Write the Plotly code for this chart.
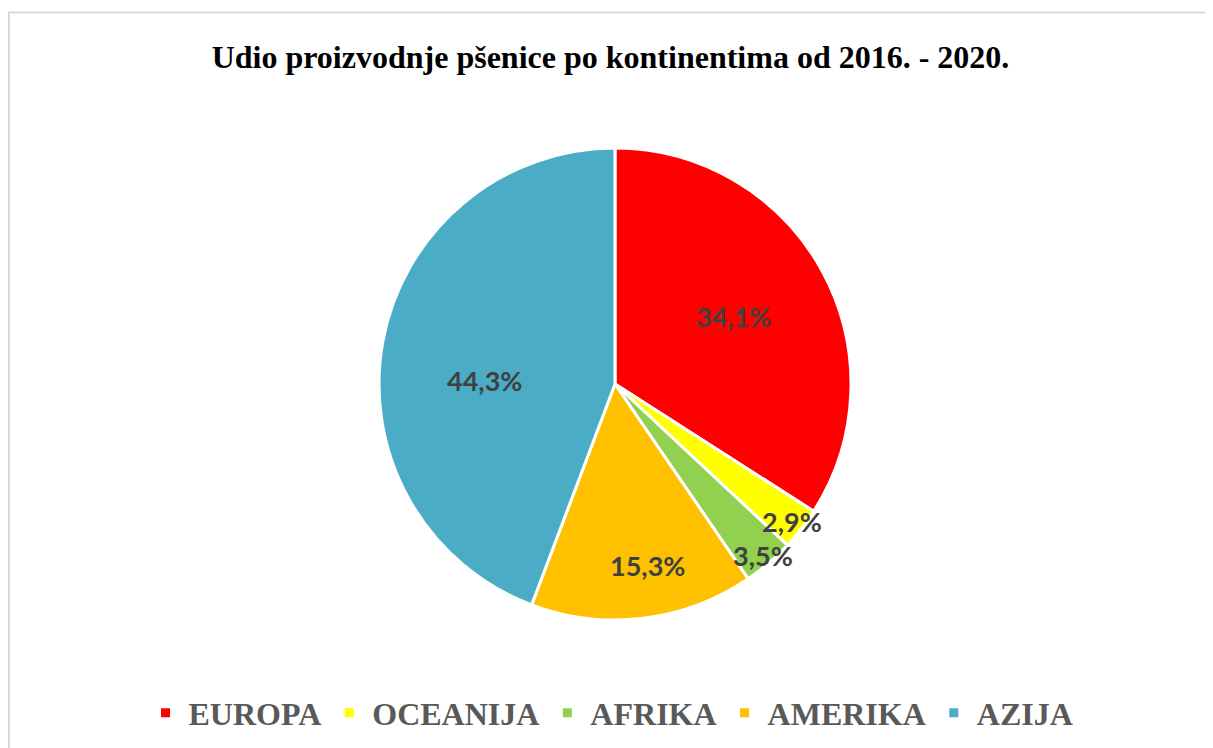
import math
import plotly.graph_objects as go

# ---- data ----
continents = ["EUROPA", "OCEANIJA", "AFRIKA", "AMERIKA", "AZIJA"]
shares = [34.1, 2.9, 3.5, 15.3, 44.3]
colors = ["#FF0000", "#FFFF00", "#92D050", "#FFC000", "#4BACC6"]
title_text = "Udio proizvodnje pšenice po kontinentima od 2016. - 2020."

# label placement (style only): fraction of radius and angle shift in degrees
label_radius = [0.58, 0.95, 0.96, 0.78, 0.555]
label_shift = [-1.0, 0.0, 0.0, -3.3, -8.6]

# page body has 8px default margin; figure sized to fit the viewport
OFF = 8
W, H = 1213 - OFF, 748 - OFF
cx, cy, R = 615 - OFF, 384 - OFF, 236

fig = go.Figure()
fig.add_trace(go.Pie(
    labels=continents,
    values=shares,
    sort=False,
    direction="clockwise",
    rotation=0,
    marker=dict(colors=colors, line=dict(color="white", width=3)),
    textinfo="none",
    hoverinfo="label+percent",
    domain=dict(x=[(cx - R) / W, (cx + R) / W],
                y=[(H - cy - R) / H, (H - cy + R) / H]),
))

# data labels computed from the values
total = sum(shares)
cum = 0.0
annotations = []
for name, v, rf, sh in zip(continents, shares, label_radius, label_shift):
    mid = (cum + v / 2) / total * 2 * math.pi + math.radians(sh)
    cum += v
    px = cx + rf * R * math.sin(mid)
    py = cy - rf * R * math.cos(mid)
    annotations.append(dict(
        x=px / W, y=1 - py / H, xref="paper", yref="paper",
        text=f"{v:.1f}%".replace(".", ","), showarrow=False,
        font=dict(family="Lato", size=27, color="#404040", weight="bold"),
        xanchor="center", yanchor="middle",
    ))

fig.update_layout(
    width=W, height=H,
    margin=dict(l=0, r=0, t=0, b=0),
    paper_bgcolor="white",
    plot_bgcolor="white",
    title=dict(text=f"<b>{title_text}</b>", x=0.5, xanchor="center",
               y=1 - (57 - OFF) / H, yanchor="middle", yref="container",
               font=dict(family="Liberation Serif", size=32, color="black")),
    legend=dict(orientation="h", x=0.5, xanchor="center",
                y=(H - (713 - OFF)) / H, yanchor="middle",
                font=dict(family="Liberation Serif", size=32, color="#595959",
                          weight="bold"),
                itemwidth=36),
    annotations=annotations,
    shapes=[dict(type="rect", xref="paper", yref="paper",
                 x0=1 / W, x1=1.2, y0=-0.2, y1=1 - (12.5 - OFF) / H,
                 line=dict(color="#D9D9D9", width=2), layer="below")],
)

fig.write_html("out.html")
